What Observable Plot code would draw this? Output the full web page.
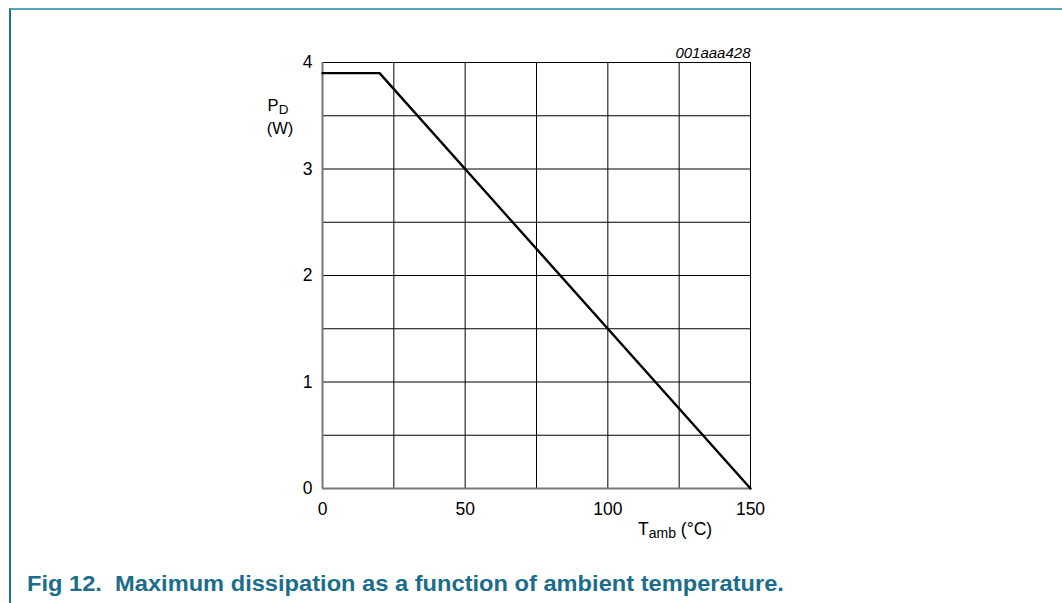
<!DOCTYPE html>
<html>
<head>
<meta charset="utf-8">
<script src="https://cdn.jsdelivr.net/npm/d3@7"></script>
<script src="https://cdn.jsdelivr.net/npm/@observablehq/plot@0.6"></script>
<style>
  html, body { margin: 0; padding: 0; background: #fff; }
  body { width: 1062px; height: 603px; position: relative; overflow: hidden; font-family: "Liberation Sans", Arial, sans-serif; }
  #frame { position: absolute; left: 9px; top: 8px; right: -5px; bottom: -5px; border-top: 2px solid #52a7b9; border-left: 2px solid #1f7190; }
  #chart { position: absolute; left: 0; top: 0; }
  #caption { position: absolute; left: 27px; top: 574px; font-size: 21.5px; line-height: 1; font-weight: bold; color: #1b6d8b; white-space: nowrap; transform: scaleX(1.1); transform-origin: 0 0; }
</style>
</head>
<body>
<div id="frame"></div>
<div id="chart"></div>
<div id="caption">Fig 12.&nbsp; Maximum dissipation as a function of ambient temperature.</div>
<script>
const temps = [0, 20, 150];
const power = [3.9, 3.9, 0];
const xTicks = [0, 50, 100, 150];
const yTicks = [0, 1, 2, 3, 4];
const xGrid = [25, 50, 75, 100, 125, 150];
const yGrid = [0.5, 1, 1.5, 2, 2.5, 3, 3.5, 4];
const figId = "001aaa428";

const curve = temps.map((t, i) => ({t, p: power[i]}));
const FONT = "Liberation Sans, Arial, sans-serif";

const plot = Plot.plot({
  width: 1062,
  height: 560,
  marginLeft: 322,
  marginRight: 312,
  marginTop: 62,
  marginBottom: 72,
  style: {fontFamily: FONT, color: "#000", background: "transparent"},
  x: {domain: [0, 150]},
  y: {domain: [0, 4]},
  marks: [
    Plot.ruleX(xGrid, {stroke: "#000", strokeWidth: 1}),
    Plot.ruleY(yGrid, {stroke: "#000", strokeWidth: 1}),
    Plot.ruleX([0], {stroke: "#777", strokeWidth: 2}),
    Plot.ruleY([0], {stroke: "#777", strokeWidth: 2}),
    Plot.axisX({ticks: xTicks, tickSize: 0, tickPadding: 14, label: null, fontSize: 17.5, tickFormat: d => String(d), fill: "#000"}),
    Plot.axisY({ticks: yTicks, tickSize: 0, tickPadding: 10, label: null, fontSize: 17.5, tickFormat: d => String(d), fill: "#000"}),
    Plot.line(curve, {x: "t", y: "p", stroke: "#000", strokeWidth: 2.4}),
    Plot.text([figId], {x: 150, y: 4, text: d => d, dy: -5, lineAnchor: "bottom", textAnchor: "end", fontStyle: "italic", fontSize: 15})
  ]
});
document.getElementById("chart").appendChild(plot);

// axis labels with subscripts
const svg = d3.select(plot);
const yl = svg.append("text").attr("font-family", FONT).attr("font-size", 16.5).attr("text-anchor", "middle");
yl.append("tspan").attr("x", 278).attr("y", 111).text("P");
yl.append("tspan").attr("font-size", 13.5).attr("dy", 3).text("D");
svg.append("text").attr("font-family", FONT).attr("font-size", 16.5).attr("text-anchor", "middle")
  .attr("x", 280).attr("y", 134).text("(W)");
const xl = svg.append("text").attr("font-family", FONT).attr("font-size", 17.5).attr("text-anchor", "start")
  .attr("x", 638).attr("y", 535);
xl.append("tspan").text("T");
xl.append("tspan").attr("font-size", 14).attr("dy", 3).text("amb");
xl.append("tspan").attr("dy", -3).text(" (°C)");
</script>
</body>
</html>
